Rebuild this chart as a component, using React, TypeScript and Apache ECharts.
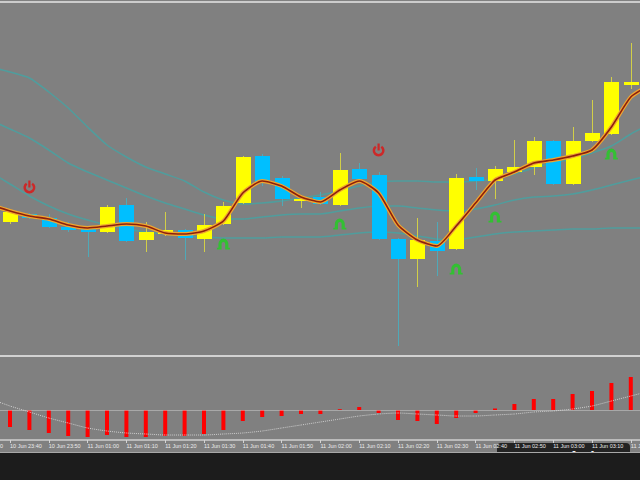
import React, { useEffect, useRef } from "react";
import * as echarts from "echarts";

// Time labels (one per 5-minute bar; categories start two bars before the first candle)
const times = [
  "10 Jun 23:30", "10 Jun 23:35", "10 Jun 23:40", "10 Jun 23:45", "10 Jun 23:50", "10 Jun 23:55",
  "11 Jun 01:00", "11 Jun 01:05", "11 Jun 01:10", "11 Jun 01:15", "11 Jun 01:20", "11 Jun 01:25",
  "11 Jun 01:30", "11 Jun 01:35", "11 Jun 01:40", "11 Jun 01:45", "11 Jun 01:50", "11 Jun 01:55",
  "11 Jun 02:00", "11 Jun 02:05", "11 Jun 02:10", "11 Jun 02:15", "11 Jun 02:20", "11 Jun 02:25",
  "11 Jun 02:30", "11 Jun 02:35", "11 Jun 02:40", "11 Jun 02:45", "11 Jun 02:50", "11 Jun 02:55",
  "11 Jun 03:00", "11 Jun 03:05", "11 Jun 03:10", "11 Jun 03:15", "11 Jun 03:20", "11 Jun 03:25",
];

// Candles (bars 0..32), prices in points
const openP = [778, 786, 782, 773, 773, 768, 795, 760, 766, 770, 761, 776, 797, 844, 822, 800, 803, 795, 831, 825, 761, 741, 759, 751, 823, 819, 828, 833, 859, 816, 859, 866, 915];
const closeP = [788, 782, 773, 770, 768, 793, 759, 768, 770, 762, 775, 794, 843, 817, 801, 801, 796, 830, 821, 761, 741, 760, 749, 822, 819, 831, 833, 859, 816, 859, 867, 918, 918];
const lowP = [776, 781, 772, 768, 743, 767, 758, 748, 764, 740, 748, 775, 796, 814, 794, 792, 795, 794, 820, 760, 654, 713, 724, 750, 810, 801, 827, 825, 815, 815, 858, 865, 911];
const highP = [789, 787, 786, 778, 774, 795, 802, 778, 788, 771, 786, 798, 844, 846, 824, 805, 808, 847, 837, 828, 762, 782, 778, 826, 832, 834, 860, 863, 860, 873, 900, 923, 957];

// Envelope bands and moving average (bars -1..33)
const upperBand = [933, 928, 922, 908, 892, 873, 855, 843, 833, 826, 819, 808, 800, 796, 797, 799, 802, 805, 809, 814, 818, 819, 819, 818, 818, 819, 821, 826, 832, 837, 841, 847, 854, 866, 876];
const middleBand = [880, 871, 862, 850, 837, 828, 820, 812, 804, 797, 791, 785, 781, 781, 783, 785, 786, 786, 789, 792, 794, 794, 792, 790, 789, 791, 795, 800, 803, 804, 806, 810, 815, 820, 825];
const lowerBand = [828, 816, 804, 794, 786, 780, 775, 771, 768, 766, 764, 763, 762, 762, 762, 763, 763, 763, 765, 767, 768, 767, 764, 761, 760, 763, 766, 768, 769, 770, 771, 771, 772, 772, 772];
const maLine = [795, 789, 784, 781, 775, 772, 774, 776, 774, 767, 766, 769, 779, 807, 819, 814, 803, 798, 810, 819, 807, 775, 760, 754, 774, 797, 820, 828, 837, 840, 844, 850, 873, 903, 915];

// Signals (bar index, price)
const redSignalBars = [1, 19];
const redSignalValues = [813, 850];
const greenSignalBars = [11, 17, 23, 25, 31];
const greenSignalValues = [756, 776, 731, 783, 846];

// Oscillator histogram (bars 0..32) and signal line (bars -1..33)
const histValues = [-17, -20, -23, -26, -27, -25, -27, -27, -26, -26, -24, -20, -11, -7, -6, -4, -4, 0.8, 3, -3, -10, -11, -14, -8, -3, 1.5, 6, 11, 11, 16, 19, 27, 33];
const signalValues = [11, 4, -2, -8, -13, -18, -21, -23, -24, -25, -25, -25, -24, -23, -21, -18, -15, -12, -9, -6, -4, -3, -4, -5, -6, -6, -5, -4, -2, -1, 1, 4, 9, 14, 19];

const CANDLE_OFFSET = 2; // category index of bar 0
const LINE_OFFSET = 1; // category index of bar -1

const RED_SYMBOL =
  "path://M9.16 2A5.5 5.5 0 1 1 2.84 2L4.16 3.88A3.2 3.2 0 1 0 7.84 3.88ZM5 0L7 0L7 6.5L5 6.5Z";
const GREEN_SYMBOL =
  "path://M0.8 11L0.8 6A5.2 5.2 0 0 1 11.2 6L11.2 11L7.9 11L7.9 6A1.9 1.9 0 0 0 4.1 6L4.1 11ZM-0.8 9.4L0.8 9.4L0.8 11L-0.8 11ZM11.2 9.4L12.8 9.4L12.8 11L11.2 11Z";

function pad(arr: number[], offset: number) {
  const out: (number | null)[] = [];
  for (let i = 0; i < offset; i++) out.push(null);
  return out.concat(arr);
}

export default function App() {
  const ref = useRef<HTMLDivElement>(null);

  useEffect(() => {
    if (!ref.current) return;
    const chart = echarts.init(ref.current, null, { renderer: "svg", width: 640, height: 480 });

    const candleData = openP.map((o, i) => [i + CANDLE_OFFSET, o, closeP[i], lowP[i], highP[i]]);
    const bandStyle = { color: "#4f9d9d", width: 1.5 };
    const gridLeft = -38.5;
    const gridWidth = times.length * 19.4;

    const option: any = {
      animation: false,
      backgroundColor: "#808080",
      grid: [
        { left: gridLeft, top: 3, width: gridWidth, height: 350, outerBoundsMode: "none", containLabel: false },
        { left: gridLeft, top: 357, width: gridWidth, height: 83, outerBoundsMode: "none", containLabel: false },
      ],
      xAxis: [
        { type: "category", gridIndex: 0, data: times, boundaryGap: true, show: false },
        {
          type: "category",
          gridIndex: 1,
          data: times,
          boundaryGap: true,
          axisLine: { onZero: false, lineStyle: { color: "#cfcfcf", width: 1.5 } },
          axisTick: { show: true, alignWithLabel: true, interval: 1, length: 3, lineStyle: { color: "#d4d4d4" } },
          axisLabel: {
            interval: 1,
            align: "left",
            fontSize: 5.5,
            color: "#ececec",
            fontFamily: "Liberation Sans",
            margin: 3,
          },
          splitLine: { show: false },
        },
      ],
      yAxis: [
        { type: "value", gridIndex: 0, min: 647, max: 997, show: false },
        { type: "value", gridIndex: 1, min: -30, max: 53, show: false },
      ],
      series: [
        { type: "line", xAxisIndex: 0, yAxisIndex: 0, data: pad(upperBand, LINE_OFFSET), showSymbol: false, smooth: 0.2, lineStyle: bandStyle, z: 1 },
        { type: "line", xAxisIndex: 0, yAxisIndex: 0, data: pad(middleBand, LINE_OFFSET), showSymbol: false, smooth: 0.2, lineStyle: bandStyle, z: 1 },
        { type: "line", xAxisIndex: 0, yAxisIndex: 0, data: pad(lowerBand, LINE_OFFSET), showSymbol: false, smooth: 0.2, lineStyle: bandStyle, z: 1 },
        {
          type: "custom",
          xAxisIndex: 0,
          yAxisIndex: 0,
          z: 2,
          clip: true,
          encode: { x: 0, y: [1, 2, 3, 4] },
          data: candleData,
          renderItem: (params: any, api: any) => {
            const cat = api.value(0);
            const o = api.value(1);
            const c = api.value(2);
            const l = api.value(3);
            const h = api.value(4);
            const top = api.coord([cat, Math.max(o, c)]);
            const bot = api.coord([cat, Math.min(o, c)]);
            const hi = api.coord([cat, h]);
            const lo = api.coord([cat, l]);
            const bull = c >= o;
            const x = Math.round(top[0]) + 0.5;
            const w = 15;
            return {
              type: "group",
              children: [
                {
                  type: "line",
                  shape: { x1: x, y1: hi[1], x2: x, y2: lo[1] },
                  style: { stroke: bull ? "#d2cf48" : "#4fa9b8", lineWidth: 1 },
                },
                {
                  type: "rect",
                  shape: { x: x - w / 2, y: top[1], width: w, height: Math.max(bot[1] - top[1], 2) },
                  style: { fill: bull ? "#ffff00" : "#00bfff" },
                },
              ],
            };
          },
        },
        { type: "line", xAxisIndex: 0, yAxisIndex: 0, data: pad(maLine, LINE_OFFSET), showSymbol: false, smooth: 0.2, lineStyle: { color: "#eea530", width: 4 }, z: 3 },
        { type: "line", xAxisIndex: 0, yAxisIndex: 0, data: pad(maLine, LINE_OFFSET), showSymbol: false, smooth: 0.2, lineStyle: { color: "#8e1f0c", width: 1.6 }, z: 3 },
        {
          type: "scatter",
          xAxisIndex: 0,
          yAxisIndex: 0,
          z: 4,
          symbol: RED_SYMBOL,
          symbolSize: [12, 13],
          itemStyle: { color: "#e01212" },
          data: redSignalBars.map((b, i) => [b + CANDLE_OFFSET, redSignalValues[i]]),
        },
        {
          type: "scatter",
          xAxisIndex: 0,
          yAxisIndex: 0,
          z: 4,
          symbol: GREEN_SYMBOL,
          symbolSize: [13, 11],
          itemStyle: { color: "#1fd01f" },
          data: greenSignalBars.map((b, i) => [b + CANDLE_OFFSET, greenSignalValues[i]]),
        },
        {
          type: "bar",
          xAxisIndex: 1,
          yAxisIndex: 1,
          data: pad(histValues, CANDLE_OFFSET),
          barWidth: 4,
          itemStyle: { color: "#ff0000" },
          markLine: {
            silent: true,
            symbol: "none",
            label: { show: false },
            lineStyle: { color: "#d0d0d0", type: "dotted", width: 1 },
            data: [{ yAxis: 0 }],
          },
        },
        {
          type: "line",
          xAxisIndex: 1,
          yAxisIndex: 1,
          data: pad(signalValues, LINE_OFFSET),
          showSymbol: false,
          smooth: 0.2,
          lineStyle: { color: "#cccccc", width: 1, type: "dotted" },
        },
      ],
      graphic: [
        { type: "rect", left: 0, top: 1, shape: { width: 640, height: 2 }, style: { fill: "#cccccc" }, z: 50 },
        { type: "rect", left: 0, top: 355, shape: { width: 640, height: 2 }, style: { fill: "#d2d2d2" }, z: 50 },
        { type: "rect", left: 0, top: 452, shape: { width: 640, height: 1 }, style: { fill: "#a8a8a8" }, z: 50 },
        { type: "rect", left: 0, top: 453, shape: { width: 640, height: 27 }, style: { fill: "#1c1c1c" }, z: 50 },
        {
          type: "group",
          z: 100,
          children: [
            {
              type: "rect",
              shape: { x: 497, y: 443, width: 133, height: 27, r: 4 },
              style: { fill: "rgba(22,22,22,0.88)" },
            },
            {
              type: "text",
              x: 563.5,
              y: 457,
              style: {
                text: "www.mt4.shop",
                fill: "#f4f4f4",
                font: "bold 16px 'Liberation Sans', Arial, sans-serif",
                textAlign: "center",
                textVerticalAlign: "middle",
              },
            },
          ],
        },
      ],
    };

    chart.setOption(option);
    return () => chart.dispose();
  }, []);

  return <div ref={ref} style={{ position: "fixed", left: 0, top: 0, width: 640, height: 480 }} />;
}
